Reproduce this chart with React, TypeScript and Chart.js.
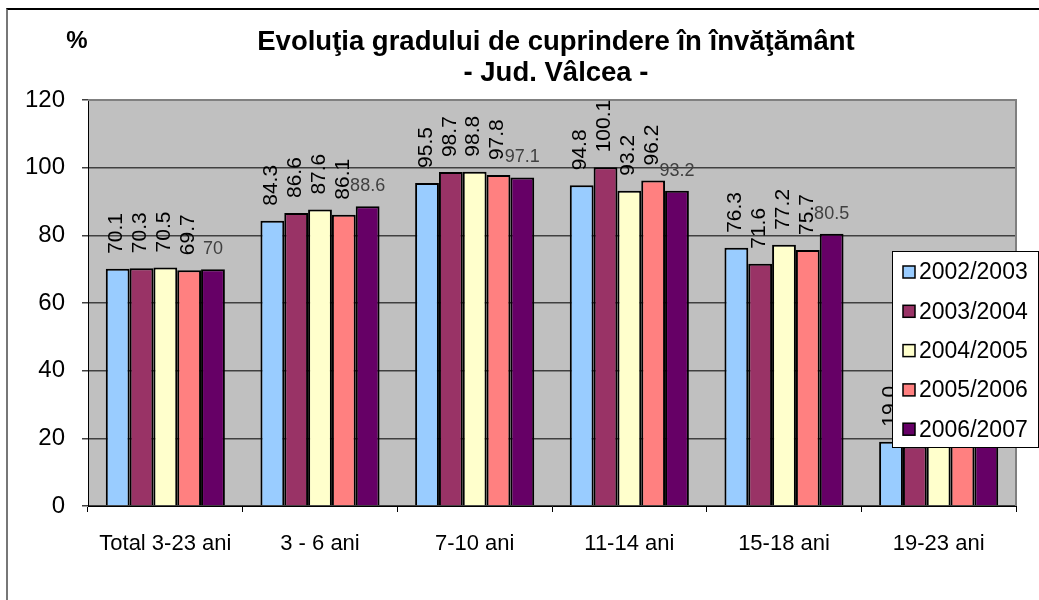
import React, { useEffect, useRef } from "react";
import { Chart, registerables } from "chart.js";

Chart.register(...registerables);

const categories = ["Total 3-23 ani", "3 - 6 ani", "7-10 ani", "11-14 ani", "15-18 ani", "19-23 ani"];
const seriesNames = ["2002/2003", "2003/2004", "2004/2005", "2005/2006", "2006/2007"];
const s2002 = [70.1, 84.3, 95.5, 94.8, 76.3, 19.0];
const s2003 = [70.3, 86.6, 98.7, 100.1, 71.6, 17.6];
const s2004 = [70.5, 87.6, 98.8, 93.2, 77.2, 18.4];
const s2005 = [69.7, 86.1, 97.8, 96.2, 75.7, 19.2];
const s2006 = [70, 88.6, 97.1, 93.2, 80.5, 20.1];
const seriesColors = ["#99CCFF", "#993366", "#FFFFCC", "#FF8080", "#660066"];
const yTicks = [0, 20, 40, 60, 80, 100, 120];

const FONT = "'Liberation Sans', Arial, sans-serif";

const bgPlugin = {
  id: "plotBg",
  beforeDraw(chart: any) {
    const { ctx, chartArea: a } = chart;
    ctx.save();
    ctx.fillStyle = "#C0C0C0";
    ctx.fillRect(a.left, a.top, a.right - a.left, a.bottom - a.top);
    ctx.restore();
  },
  beforeDatasetsDraw(chart: any) {
    const { ctx, chartArea: a } = chart;
    ctx.save();
    ctx.strokeStyle = "#808080";
    ctx.lineWidth = 2;
    ctx.beginPath();
    ctx.moveTo(a.left, a.top);
    ctx.lineTo(a.right, a.top);
    ctx.lineTo(a.right, a.bottom);
    ctx.stroke();
    ctx.restore();
  },
};

const labelPlugin = {
  id: "valueLabels",
  afterDatasetsDraw(chart: any) {
    const { ctx } = chart;
    ctx.save();
    chart.data.datasets.forEach((ds: any, di: number) => {
      const meta = chart.getDatasetMeta(di);
      meta.data.forEach((bar: any, i: number) => {
        const v = ds.data[i];
        if (di < 4) {
          ctx.save();
          ctx.translate(bar.x - 1, bar.y - 15);
          ctx.rotate(-Math.PI / 2);
          ctx.font = `21px ${FONT}`;
          ctx.fillStyle = "#000";
          ctx.textAlign = "left";
          ctx.textBaseline = "middle";
          ctx.fillText(v.toFixed(1), 0, 0);
          ctx.restore();
        } else {
          ctx.font = `18px ${FONT}`;
          ctx.fillStyle = "#404040";
          ctx.textAlign = "center";
          ctx.textBaseline = "bottom";
          ctx.fillText(String(v), bar.x, bar.y - 11);
        }
      });
    });
    ctx.restore();
  },
};

const legendPlugin = {
  id: "boxLegend",
  afterDraw(chart: any) {
    const { ctx } = chart;
    const x0 = 892, y0 = 251, w = 147, h = 197;
    ctx.save();
    ctx.fillStyle = "#fff";
    ctx.fillRect(x0, y0, w, h);
    ctx.strokeStyle = "#000";
    ctx.lineWidth = 1;
    ctx.strokeRect(x0 + 0.5, y0 + 0.5, w - 1, h - 1);
    chart.data.datasets.forEach((ds: any, i: number) => {
      const cy = 272 + i * 39.3;
      ctx.fillStyle = ds.backgroundColor;
      ctx.fillRect(903, cy - 6, 12, 12);
      ctx.strokeStyle = "#000";
      ctx.lineWidth = 1.5;
      ctx.strokeRect(903, cy - 6, 12, 12);
      ctx.fillStyle = "#000";
      ctx.font = `23px ${FONT}`;
      ctx.textAlign = "left";
      ctx.textBaseline = "middle";
      ctx.fillText(ds.label, 919, cy + 1);
    });
    ctx.restore();
  },
};

export default function App() {
  const ref = useRef<HTMLCanvasElement>(null);
  useEffect(() => {
    if (!ref.current) return;
    const allSeries = [s2002, s2003, s2004, s2005, s2006];
    const chart = new Chart(ref.current, {
      type: "bar",
      data: {
        labels: categories,
        datasets: allSeries.map((d, i) => ({
          label: seriesNames[i],
          data: d,
          backgroundColor: seriesColors[i],
          borderColor: "#000",
          borderWidth: 2,
          barPercentage: 1,
          categoryPercentage: 0.77,
        })),
      },
      options: {
        responsive: false,
        animation: false,
        devicePixelRatio: 1,
        layout: { padding: { left: 0, top: 100, right: 23, bottom: 0 } },
        plugins: {
          legend: { display: false },
          tooltip: { enabled: false },
          title: { display: false },
        },
        scales: {
          x: {
            offset: true,
            grid: { drawOnChartArea: false, drawTicks: true, tickLength: 6, color: "#000", offset: true },
            border: { color: "#000", width: 1 },
            ticks: { font: { family: FONT, size: 22 }, color: "#000", padding: 19, maxRotation: 0 },
            afterFit: (s: any) => { s.height = 94; },
          },
          y: {
            min: 0,
            max: 120,
            afterBuildTicks: (s: any) => { s.ticks = yTicks.map((v) => ({ value: v })); },
            grid: { color: "#404040", lineWidth: 1.5, tickLength: 6 },
            border: { color: "#000", width: 1 },
            ticks: { font: { family: FONT, size: 24 }, color: "#000", padding: 17 },
            afterFit: (s: any) => { s.width = 88; },
          },
        },
      },
      plugins: [bgPlugin, labelPlugin, legendPlugin],
    });
    return () => chart.destroy();
  }, []);

  return (
    <div style={{ position: "absolute", left: 0, top: 0, width: 1039, height: 600, overflow: "hidden", background: "#fff" }}>
      <div style={{ position: "absolute", left: 6, top: 8, width: 1200, height: 800, borderTop: "2px solid #000", borderLeft: "2px solid #777" }} />
      <canvas ref={ref} width={1039} height={600} style={{ position: "absolute", left: 0, top: 0, display: "block" }} />
      <div style={{ position: "absolute", left: 77, top: 26, transform: "translateX(-50%)", font: `bold 24px ${FONT}`, lineHeight: "28px", color: "#000" }}>%</div>
      <div style={{ position: "absolute", left: 556, top: 25, transform: "translateX(-50%)", font: `bold 27.5px ${FONT}`, lineHeight: "31px", textAlign: "center", whiteSpace: "nowrap", color: "#000" }}>
        Evoluţia gradului de cuprindere în învăţământ
        <br />- Jud. Vâlcea -
      </div>
    </div>
  );
}
